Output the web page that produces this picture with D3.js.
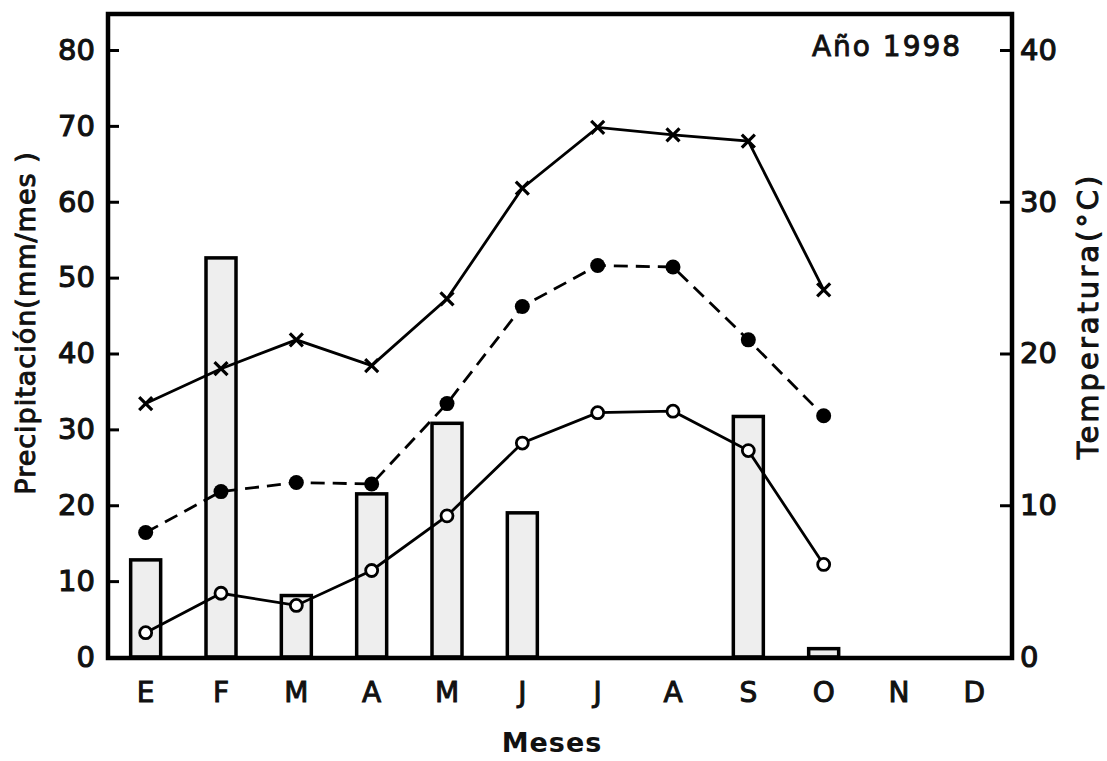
<!DOCTYPE html>
<html>
<head>
<meta charset="utf-8">
<script src="https://cdn.jsdelivr.net/npm/d3@7"></script>
<style>
  body { margin: 0; background: #fff; }
  text { font-family: "DejaVu Sans", sans-serif; fill: #111; }
</style>
</head>
<body>
<div class="chart"></div>
<script>
// months and data (Año 1998)
const months = ["E", "F", "M", "A", "M", "J", "J", "A", "S", "O", "N", "D"];
const precip = [12.8, 52.6, 8.1, 21.5, 30.8, 19.0, 0, 0, 31.7, 1.1, 0, 0];   // mm/mes
const tMax = [16.7, 19.0, 20.9, 19.2, 23.6, 30.9, 34.9, 34.4, 34.0, 24.2];   // °C
const tMean = [8.2, 10.9, 11.5, 11.4, 16.7, 23.1, 25.8, 25.7, 20.9, 15.9];
const tMin = [1.6, 4.2, 3.4, 5.7, 9.3, 14.1, 16.1, 16.2, 13.6, 6.1];
const precipTicks = [0, 10, 20, 30, 40, 50, 60, 70, 80];
const tempTicks = [0, 10, 20, 30, 40];

const W = 1107, H = 761;
const m = { left: 108, right: 1012, top: 14, bottom: 658 };

const svg = d3.select(".chart").append("svg")
  .attr("width", W).attr("height", H);

const x = d3.scaleBand().domain(d3.range(12)).range([m.left, m.right]);
const yP = d3.scaleLinear().domain([0, 80]).range([657, 50]);
const yT = d3.scaleLinear().domain([0, 40]).range([657, 50]);
const cx = (i) => x(i) + x.bandwidth() / 2;

// bars
const bw = 30;
svg.append("g")
  .selectAll("rect")
  .data(precip.map((v, i) => ({ v, i })).filter((d) => d.v > 0))
  .join("rect")
  .attr("x", (d) => cx(d.i) - bw / 2)
  .attr("y", (d) => yP(d.v))
  .attr("width", bw)
  .attr("height", (d) => yP(0) - yP(d.v))
  .attr("fill", "#eeeeee")
  .attr("stroke", "#000")
  .attr("stroke-width", 3.5);

// frame
svg.append("rect")
  .attr("x", m.left).attr("y", m.top)
  .attr("width", m.right - m.left).attr("height", m.bottom - m.top)
  .attr("fill", "none").attr("stroke", "#000").attr("stroke-width", 4.5);

// axes
const axL = svg.append("g")
  .attr("transform", `translate(${m.left},0)`)
  .call(d3.axisLeft(yP).tickValues(precipTicks).tickSizeInner(-11).tickSizeOuter(0).tickPadding(13));
const axR = svg.append("g")
  .attr("transform", `translate(${m.right},0)`)
  .call(d3.axisRight(yT).tickValues(tempTicks).tickSizeInner(-12).tickSizeOuter(0).tickPadding(8));
[axL, axR].forEach((a) => {
  a.select(".domain").remove();
  a.selectAll("line").attr("stroke", "#000").attr("stroke-width", 3);
  a.selectAll("text")
    .attr("font-size", 29)
    .attr("font-family", "DejaVu Sans")
    .attr("fill", "#111")
    .attr("stroke", "#111").attr("stroke-width", 1.1);
});

// month labels
svg.append("g")
  .selectAll("text")
  .data(months)
  .join("text")
  .attr("x", (d, i) => cx(i))
  .attr("y", 702)
  .attr("text-anchor", "middle")
  .attr("font-size", 28)
  .attr("stroke", "#111").attr("stroke-width", 1)
  .text((d) => d);

// lines
const line = (data) => d3.line().x((d, i) => cx(i)).y((d) => yT(d))(data);

svg.append("path").attr("d", line(tMax))
  .attr("fill", "none").attr("stroke", "#000").attr("stroke-width", 2.8);
svg.append("path").attr("d", line(tMean))
  .attr("fill", "none").attr("stroke", "#000").attr("stroke-width", 2.8)
  .attr("stroke-dasharray", "14,8");
svg.append("path").attr("d", line(tMin))
  .attr("fill", "none").attr("stroke", "#000").attr("stroke-width", 2.8);

// markers
const s = 6.5;
svg.append("g")
  .selectAll("path")
  .data(tMax)
  .join("path")
  .attr("d", (d, i) => {
    const px = cx(i), py = yT(d);
    return `M${px - s},${py - s}L${px + s},${py + s}M${px - s},${py + s}L${px + s},${py - s}`;
  })
  .attr("stroke", "#000").attr("stroke-width", 3.2);

svg.append("g")
  .selectAll("circle")
  .data(tMean)
  .join("circle")
  .attr("cx", (d, i) => cx(i)).attr("cy", (d) => yT(d))
  .attr("r", 7.5).attr("fill", "#000");

svg.append("g")
  .selectAll("circle")
  .data(tMin)
  .join("circle")
  .attr("cx", (d, i) => cx(i)).attr("cy", (d) => yT(d))
  .attr("r", 6).attr("fill", "#fff")
  .attr("stroke", "#000").attr("stroke-width", 2.8);

// titles
svg.append("text")
  .attr("x", 887).attr("y", 56)
  .attr("text-anchor", "middle")
  .attr("font-size", 28)
  .attr("letter-spacing", 2)
  .attr("stroke", "#111").attr("stroke-width", 0.9)
  .text("Año 1998");

svg.append("text")
  .attr("x", 552).attr("y", 752)
  .attr("text-anchor", "middle")
  .attr("font-size", 27)
  .attr("font-weight", "bold")
  .attr("letter-spacing", 1)
  .text("Meses");

svg.append("text")
  .attr("transform", "translate(35,323) rotate(-90)")
  .attr("text-anchor", "middle")
  .attr("font-size", 27)
  .attr("letter-spacing", 1)
  .attr("stroke", "#111").attr("stroke-width", 1)
  .text("Precipitación(mm/mes )");

svg.append("text")
  .attr("transform", "translate(1098,316) rotate(-90)")
  .attr("text-anchor", "middle")
  .attr("font-size", 29)
  .attr("letter-spacing", 3)
  .attr("stroke", "#111").attr("stroke-width", 1)
  .text("Temperatura(°C)");
</script>
</body>
</html>
